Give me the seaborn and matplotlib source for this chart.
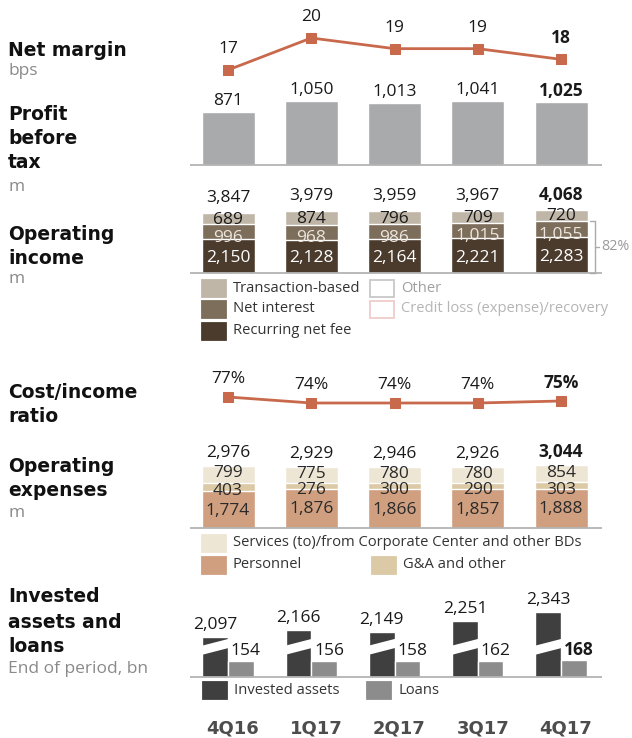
import numpy as np
import pandas as pd
import seaborn as sns
import matplotlib.pyplot as plt
from matplotlib.patches import Rectangle, Polygon

# -----------------------------
# Data
# -----------------------------
quarters = ["4Q16", "1Q17", "2Q17", "3Q17", "4Q17"]
net_margin = [17, 20, 19, 19, 18]
profit_before_tax = [871, 1050, 1013, 1041, 1025]
op_income_total = [3847, 3979, 3959, 3967, 4068]
recurring_fee = [2150, 2128, 2164, 2221, 2283]
net_interest = [996, 968, 986, 1015, 1055]
transaction_based = [689, 874, 796, 709, 720]
recurring_ni_share = "82%"
cost_income = [77, 74, 74, 74, 75]
op_exp_total = [2976, 2929, 2946, 2926, 3044]
personnel = [1774, 1876, 1866, 1857, 1888]
ga_other = [403, 276, 300, 290, 303]
services = [799, 775, 780, 780, 854]
invested_assets = [2097, 2166, 2149, 2251, 2343]
loans = [154, 156, 158, 162, 168]
invested_break = 1703  # broken axis offset for invested assets bars

# colours
c_line = "#c8694c"
c_pbt = "#a9aaac"
c_rec, c_ni, c_tb = "#4b3b2d", "#7d6d5b", "#c0b6a8"
c_pers, c_ga, c_serv = "#cf9f80", "#dcc9a5", "#eee6d5"
c_inv, c_loan = "#3f3f3f", "#8c8c8c"
c_base = "#b3b3b3"

sns.set_theme(style="white")
plt.rcParams["font.family"] = ["Open Sans", "DejaVu Sans"]

W, H = 632, 738
fig = plt.figure(figsize=(W / 100, H / 100), dpi=100)

X0, X1 = 190, 602
C0, STEP = 228, 83.25
XLIM = ((X0 - C0) / STEP, (X1 - C0) / STEP)
BAR_W = 53 / STEP
VAL = 12.5


def panel(top, bottom):
    return fig.add_axes([X0 / W, 1 - bottom / H, (X1 - X0) / W, (bottom - top) / H])


def finish(ax, top, bottom, baseline, scale, base=0, line=True):
    ax.set_ylim(base - (bottom - baseline) / scale, base + (baseline - top) / scale)
    ax.set_xlim(*XLIM)
    if line:
        ax.axhline(0, color=c_base, lw=1.3, zorder=4)
    ax.axis("off")


def label(ax, x, y, s, dy, bold=False, color="#1a1a1a", dx=0, size=VAL):
    ax.annotate(s, xy=(x, y), xytext=(dx, dy), textcoords="offset pixels",
                ha="center", va="center", fontsize=size, color=color,
                fontweight="bold" if bold else "normal", zorder=6)


idx = np.arange(len(quarters))
last = len(quarters) - 1

# -----------------------------
# 1. Net margin
# -----------------------------
ax1 = panel(0, 85)
sns.lineplot(x=idx, y=net_margin, ax=ax1, color=c_line, lw=2, marker="s",
             markersize=7.5, markeredgecolor=c_line)
for i, v in enumerate(net_margin):
    label(ax1, i, v, f"{v}", 21, bold=(i == last))
finish(ax1, 0, 85, 70, 10.67, base=17, line=False)

# -----------------------------
# 2. Profit before tax
# -----------------------------
ax2 = panel(85, 170)
sns.barplot(x=quarters, y=profit_before_tax, color=c_pbt, saturation=1,
            width=BAR_W, errorbar=None, ax=ax2)
for i, v in enumerate(profit_before_tax):
    label(ax2, i, v, f"{v:,}", 11, bold=(i == last))
finish(ax2, 85, 170, 165, 0.061)

# -----------------------------
# 3. Operating income (stacked)
# -----------------------------
inc = pd.DataFrame({"quarter": quarters, "rec": recurring_fee,
                    "ni": net_interest, "tb": transaction_based})
inc["s_ni"] = inc.rec + inc.ni
inc["s_tb"] = inc.s_ni + inc.tb
ax3 = panel(185, 278)
for col, c in [("s_tb", c_tb), ("s_ni", c_ni), ("rec", c_rec)]:
    sns.barplot(data=inc, x="quarter", y=col, color=c, saturation=1,
                width=BAR_W, errorbar=None, ax=ax3)
for i, r in inc.iterrows():
    label(ax3, i, r.rec / 2, f"{r.rec:,}", -2, color="white")
    label(ax3, i, r.rec + r.ni / 2, f"{r.ni:,}", -6, color="#ece6de")
    label(ax3, i, r.s_ni + r.tb / 2, f"{r.tb:,}", -1)
    label(ax3, i, op_income_total[i], f"{op_income_total[i]:,}", 15, bold=(i == last))
xb = (595 - C0) / STEP
top_b = inc.s_ni.iloc[last]
ax3.plot([xb, xb], [0, top_b], color="#aaaaaa", lw=1, zorder=5)
ax3.plot([xb - 0.06, xb], [top_b, top_b], color="#aaaaaa", lw=1, zorder=5)
ax3.plot([xb - 0.06, xb], [0, 0], color="#aaaaaa", lw=1, zorder=5)
ax3.plot([xb, xb + 0.045], [top_b / 2, top_b / 2], color="#aaaaaa", lw=1, zorder=5)
ax3.text(xb + 0.07, top_b / 2, recurring_ni_share, ha="left", va="center",
         fontsize=10.3, color="#9a9a9a")
finish(ax3, 185, 278, 273, 0.0156)

# -----------------------------
# 4. Cost/income ratio
# -----------------------------
ax4 = panel(360, 420)
sns.lineplot(x=idx, y=cost_income, ax=ax4, color=c_line, lw=2, marker="s",
             markersize=7.5, markeredgecolor=c_line)
for i, v in enumerate(cost_income):
    label(ax4, i, v, f"{v}%", 18, bold=(i == last))
finish(ax4, 360, 420, 397, 2.0, base=77, line=False)

# -----------------------------
# 5. Operating expenses (stacked)
# -----------------------------
exp = pd.DataFrame({"quarter": quarters, "pers": personnel, "ga": ga_other,
                    "serv": services})
exp["s_ga"] = exp.pers + exp.ga
exp["s_serv"] = exp.s_ga + exp.serv
ax5 = panel(440, 533)
for col, c in [("s_serv", c_serv), ("s_ga", c_ga), ("pers", c_pers)]:
    sns.barplot(data=exp, x="quarter", y=col, color=c, saturation=1,
                width=BAR_W, errorbar=None, ax=ax5)
for i, r in exp.iterrows():
    label(ax5, i, r.pers / 2, f"{r.pers:,}", -1, color="#2a2a2a")
    label(ax5, i, r.pers + r.ga / 2, f"{r.ga:,}", -4, color="#2a2a2a")
    label(ax5, i, r.s_ga + r.serv / 2, f"{r.serv:,}", 1, color="#2a2a2a")
    label(ax5, i, op_exp_total[i], f"{op_exp_total[i]:,}", 13, bold=(i == last))
finish(ax5, 440, 533, 528, 0.0208)

# -----------------------------
# 6. Invested assets and loans (broken bars)
# -----------------------------
inv = pd.DataFrame({"quarter": quarters * 2,
                    "series": ["Invested assets"] * 5 + ["Loans"] * 5,
                    "value": invested_assets + loans})
inv["height"] = np.where(inv.series == "Invested assets",
                         inv.value - invested_break, inv.value)
ax6 = panel(595, 738)
half = 0.613 / 2
sns.barplot(data=inv, x="quarter", y="height", hue="series",
            palette=[c_inv, c_loan], width=0.613, gap=0, saturation=1,
            errorbar=None, legend=False, ax=ax6)
for i in idx:
    ax6.add_patch(Polygon([(i - half - 0.02, 215), (i + 0.01, 286),
                           (i + 0.01, 376), (i - half - 0.02, 305)],
                          facecolor="white", edgecolor="none", zorder=5))
    label(ax6, i - half / 2, invested_assets[i] - invested_break,
          f"{invested_assets[i]:,}", 12)
    label(ax6, i + half / 2, loans[i], f"{loans[i]:,}", 10, dx=5,
          bold=(i == last))
    ax6.annotate(quarters[i], xy=(i, 0), xytext=(5, -51), textcoords="offset pixels",
                 ha="center", va="center", fontsize=13, fontweight="bold",
                 color="#4d4d4d", family="DejaVu Sans")
finish(ax6, 595, 738, 677, 0.1016)

# -----------------------------
# Overlay: titles and legends in pixel space
# -----------------------------
ov = fig.add_axes([0, 0, 1, 1])
ov.set_xlim(0, W)
ov.set_ylim(H, 0)
ov.axis("off")

titles = [
    (50, "Net margin", True), (71, "bps", False),
    (115, "Profit", True), (139, "before", True), (163, "tax", True), (187, "m", False),
    (235, "Operating", True), (258, "income", True), (279, "m", False),
    (392, "Cost/income", True), (416, "ratio", True),
    (467, "Operating", True), (491, "expenses", True), (513, "m", False),
    (597, "Invested", True), (622, "assets and", True), (646, "loans", True),
    (669, "End of period, bn", False),
]
for y, s, bold in titles:
    if bold:
        ov.text(8, y, s, ha="left", va="center", fontsize=13.5, fontweight="bold",
                color="#111111", family="DejaVu Sans")
    else:
        ov.text(8, y, s, ha="left", va="center", fontsize=12.5, color="#8a8a8a")


def legend_item(x, y, text, face, edge=None, tcolor="#333333"):
    ov.add_patch(Rectangle((x, y - 8), 24, 17, facecolor=face,
                           edgecolor=edge if edge else face, lw=1.3))
    ov.text(x + 31, y, text, ha="left", va="center", fontsize=10.6, color=tcolor)


legend_item(202, 288, "Transaction-based", c_tb)
legend_item(202, 309, "Net interest", c_ni)
legend_item(202, 331, "Recurring net fee", c_rec)
legend_item(370, 288, "Other", "white", "#c8c8c8", "#a0a0a0")
legend_item(370, 309, "Credit loss (expense)/recovery", "white", "#f0cccc", "#b5b5b5")

legend_item(202, 543, "Services (to)/from Corporate Center and other BDs", c_serv)
legend_item(202, 565, "Personnel", c_pers)
legend_item(372, 565, "G&A and other", c_ga)

legend_item(203, 690, "Invested assets", c_inv)
legend_item(367, 690, "Loans", c_loan)

fig.savefig("out.png", dpi=100)
